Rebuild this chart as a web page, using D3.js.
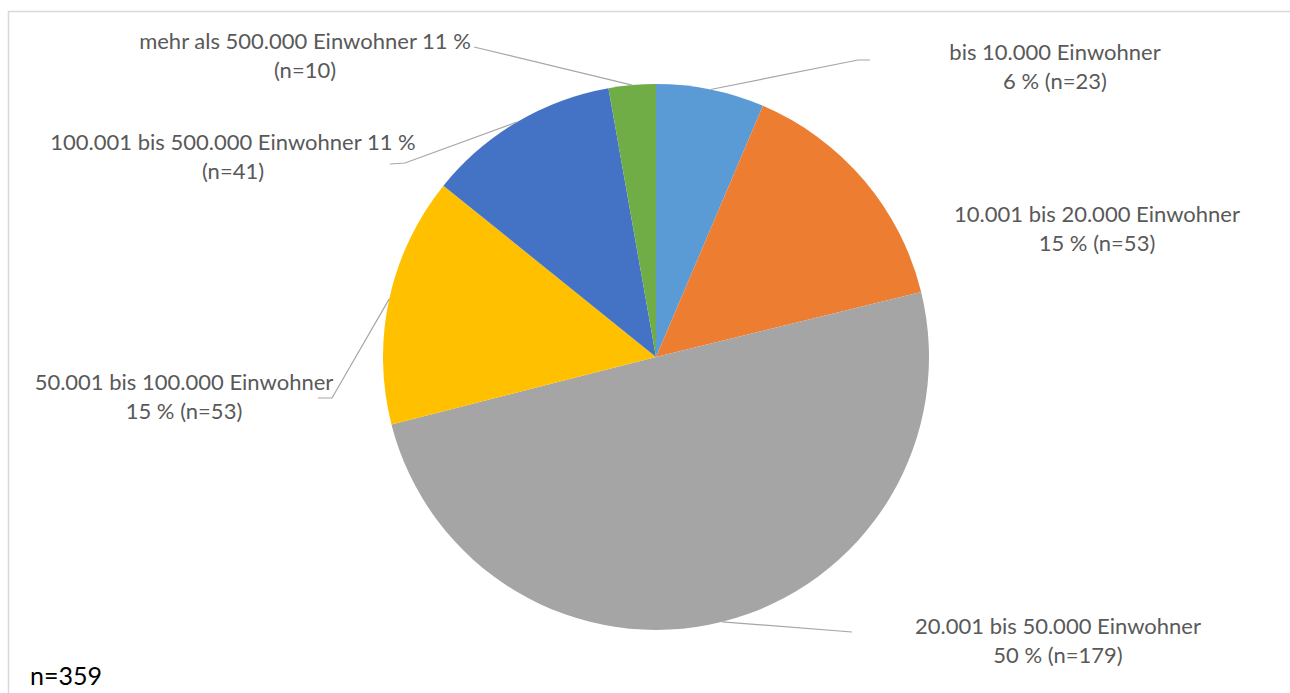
<!DOCTYPE html>
<html lang="de">
<head>
<meta charset="utf-8">
<script src="https://cdn.jsdelivr.net/npm/d3@7"></script>
<style>
  html, body { margin: 0; padding: 0; background: #fff; }
  svg { display: block; }
</style>
</head>
<body>
<svg id="chart" width="1290" height="693"></svg>
<script>
// Gemeindegrößenklassen der Befragten
const categories = [
  "bis 10.000 Einwohner",
  "10.001 bis 20.000 Einwohner",
  "20.001 bis 50.000 Einwohner",
  "50.001 bis 100.000 Einwohner",
  "100.001 bis 500.000 Einwohner",
  "mehr als 500.000 Einwohner"
];
const counts = [23, 53, 179, 53, 41, 10];
const percentLabels = ["6 %", "15 %", "50 %", "15 %", "11 %", "11 %"];
const totalLabel = "n=359";

const colors = ["#5B9BD5", "#ED7D31", "#A5A5A5", "#FFC000", "#4472C4", "#70AD47"];

// Label text lines per slice
const labelLines = categories.map((c, i) => {
  const n = `(n=${counts[i]})`;
  if (i >= 4) return [`${c} ${percentLabels[i]}`, n];
  return [c, `${percentLabels[i]} ${n}`];
});

// Label placement: centre x, first baseline, and leader path (elbow/end) or none
const labelLayout = [
  { x: 1055, y: 60,  leader: [[858, 60], [870, 60]] },
  { x: 1097, y: 222, leader: null },
  { x: 1058, y: 634, leader: [[852, 632]] },
  { x: 184,  y: 390, leader: [[332, 398], [318, 398]] },
  { x: 233,  y: 150, leader: [[405, 163], [390, 164]] },
  { x: 305,  y: 49,  leader: [[474, 47]] }
];

const svg = d3.select("#chart");
const W = 1290, H = 693;
const cx = 656, cy = 357, R = 273;
const fontFamily = "Lato, 'Open Sans', 'DejaVu Sans', sans-serif";
const fontSize = 22;
const lineGap = 29;

// Chart frame
svg.append("path")
  .attr("d", `M8.5,${H} L8.5,11.5 L${W},11.5`)
  .attr("fill", "none")
  .attr("stroke", "#d9d9d9")
  .attr("stroke-width", 1.5);

const pie = d3.pie().sort(null).value(d => d);
const arcs = pie(counts);
const arc = d3.arc().innerRadius(0).outerRadius(R);

const g = svg.append("g").attr("transform", `translate(${cx},${cy})`);
g.selectAll("path.slice")
  .data(arcs)
  .join("path")
  .attr("class", "slice")
  .attr("d", arc)
  .attr("fill", (d, i) => colors[i]);

// Leader lines start on the rim at each slice's mid angle
const rimPoint = d => {
  const a = (d.startAngle + d.endAngle) / 2;
  return [cx + R * Math.sin(a), cy - R * Math.cos(a)];
};
const line = d3.line();
arcs.forEach((d, i) => {
  const lay = labelLayout[i];
  if (!lay.leader) return;
  svg.append("path")
    .attr("d", line([rimPoint(d), ...lay.leader]))
    .attr("fill", "none")
    .attr("stroke", "#a6a6a6")
    .attr("stroke-width", 1.2);
});

// Data labels
labelLines.forEach((lines, i) => {
  const lay = labelLayout[i];
  const t = svg.append("text")
    .attr("text-anchor", "middle")
    .attr("font-family", fontFamily)
    .attr("font-size", fontSize)
    .attr("fill", "#595959");
  lines.forEach((s, k) => {
    t.append("tspan").attr("x", lay.x).attr("y", lay.y + k * lineGap).text(s);
  });
});

// Sample size note
svg.append("text")
  .attr("x", 30)
  .attr("y", 685)
  .attr("font-family", fontFamily)
  .attr("font-size", 25)
  .attr("fill", "#000")
  .text(totalLabel);
</script>
</body>
</html>
